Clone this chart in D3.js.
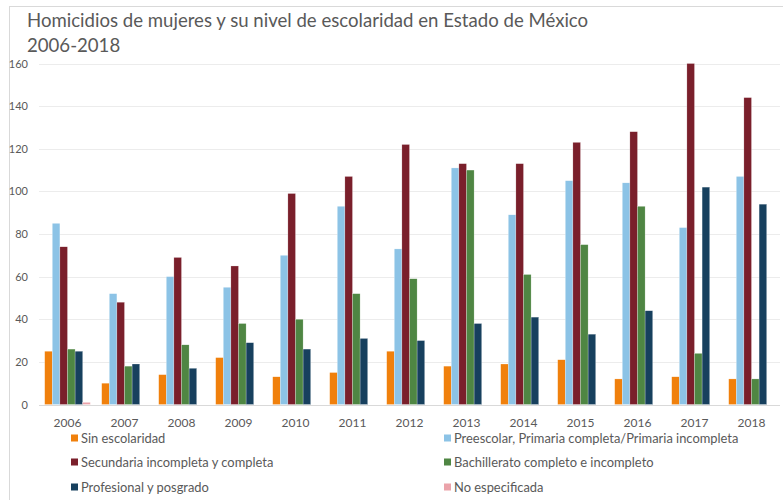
<!DOCTYPE html>
<html>
<head>
<meta charset="utf-8">
<script src="https://cdn.jsdelivr.net/npm/d3@7"></script>
<style>
  html, body { margin: 0; padding: 0; background: #fff; }
  svg { display: block; font-family: Lato, "Open Sans", sans-serif; }
</style>
</head>
<body>
<svg id="chart" width="783" height="500"></svg>
<script>
// Years on the x axis
const years = ["2006","2007","2008","2009","2010","2011","2012","2013","2014","2015","2016","2017","2018"];

// Series names (schooling level)
const seriesNames = [
  "Sin escolaridad",
  "Preescolar, Primaria completa/Primaria incompleta",
  "Secundaria incompleta y completa",
  "Bachillerato completo e incompleto",
  "Profesional y posgrado",
  "No especificada"
];

// Homicides per year for each schooling level
const sinEscolaridad = [25, 10, 14, 22, 13, 15, 25, 18, 19, 21, 12, 13, 12];
const primaria       = [85, 52, 60, 55, 70, 93, 73, 111, 89, 105, 104, 83, 107];
const secundaria     = [74, 48, 69, 65, 99, 107, 122, 113, 113, 123, 128, 160, 144];
const bachillerato   = [26, 18, 28, 38, 40, 52, 59, 110, 61, 75, 93, 24, 12];
const profesional    = [25, 19, 17, 29, 26, 31, 30, 38, 41, 33, 44, 102, 94];
const noEspecificada = [1, 0, 0, 0, 0, 0, 0, 0, 0, 0, 0, 0, 0];

const yTicks = [0, 20, 40, 60, 80, 100, 120, 140, 160];

const seriesValues = [sinEscolaridad, primaria, secundaria, bachillerato, profesional, noEspecificada];
const colors = ["#f0800c", "#8cc3e6", "#7a1f2b", "#4f8643", "#17405e", "#eba3aa"];

const svg = d3.select("#chart");
const W = 783, H = 500;

// Light outer frame
svg.append("rect")
  .attr("x", 9.5).attr("y", 6.5)
  .attr("width", W).attr("height", H)
  .attr("fill", "none").attr("stroke", "#d9d9d9").attr("stroke-width", 1);

// Title
const title = svg.append("text")
  .attr("fill", "#595959")
  .attr("font-size", 18.6);
title.append("tspan").attr("x", 27).attr("y", 27)
  .text("Homicidios de mujeres y su nivel de escolaridad en Estado de México");
title.append("tspan").attr("x", 27).attr("y", 52).text("2006-2018");

// Scales
const plot = { left: 39, right: 780, top: 63.5, bottom: 404.5 };
const x0 = d3.scaleBand().domain(years).range([plot.left, plot.right])
  .paddingInner(0.2).paddingOuter(0.1);
const x1 = d3.scaleBand().domain(d3.range(seriesNames.length)).range([0, x0.bandwidth()]);
const y = d3.scaleLinear().domain([0, 160]).range([plot.bottom, plot.top]);

// Gridlines
svg.append("g").selectAll("line")
  .data(yTicks.filter(t => t > 0))
  .join("line")
  .attr("x1", plot.left).attr("x2", plot.right)
  .attr("y1", d => Math.round(y(d)) + 0.5).attr("y2", d => Math.round(y(d)) + 0.5)
  .attr("stroke", "#ececec").attr("stroke-width", 1);

// Y axis labels
const yAxis = svg.append("g")
  .attr("transform", `translate(${plot.left},0)`)
  .call(d3.axisLeft(y).tickValues(yTicks).tickSize(0).tickPadding(11));
yAxis.select(".domain").remove();
yAxis.selectAll("text").attr("fill", "#595959").attr("font-size", 11)
  .attr("font-family", "Lato, 'Open Sans', sans-serif");

// Bars
const groups = svg.append("g").selectAll("g")
  .data(years)
  .join("g")
  .attr("transform", d => `translate(${x0(d)},0)`);

groups.selectAll("rect")
  .data((yr, i) => seriesValues.map((vals, s) => ({ s, v: vals[i] })))
  .join("rect")
  .attr("x", d => x1(d.s))
  .attr("width", x1.bandwidth())
  .attr("y", d => y(d.v))
  .attr("height", d => y(0) - y(d.v))
  .attr("fill", d => colors[d.s])
  .attr("stroke", "#ffffff").attr("stroke-width", 0.4).attr("stroke-opacity", 0.6);

// Baseline
svg.append("line")
  .attr("x1", plot.left).attr("x2", plot.right)
  .attr("y1", Math.round(y(0)) + 0.5).attr("y2", Math.round(y(0)) + 0.5)
  .attr("stroke", "#d9d9d9");

// X axis labels
const xAxis = svg.append("g")
  .attr("transform", `translate(0,${plot.bottom})`)
  .call(d3.axisBottom(x0).tickSize(0).tickPadding(14));
xAxis.select(".domain").remove();
xAxis.selectAll("text").attr("fill", "#595959").attr("font-size", 12)
  .attr("font-family", "Lato, 'Open Sans', sans-serif");

// Legend: two columns, three rows
const legendCols = [71, 444];
const legendRows = [438, 462, 487];
const legend = svg.append("g").selectAll("g")
  .data(seriesNames)
  .join("g")
  .attr("transform", (d, i) => `translate(${legendCols[i % 2]},${legendRows[Math.floor(i / 2)]})`);
legend.append("rect")
  .attr("x", 0).attr("y", -3.5).attr("width", 7).attr("height", 7)
  .attr("fill", (d, i) => colors[i]);
legend.append("text")
  .attr("x", 10).attr("y", 0).attr("dy", "0.35em")
  .attr("fill", "#595959").attr("font-size", 12.9)
  .text(d => d);
</script>
</body>
</html>
